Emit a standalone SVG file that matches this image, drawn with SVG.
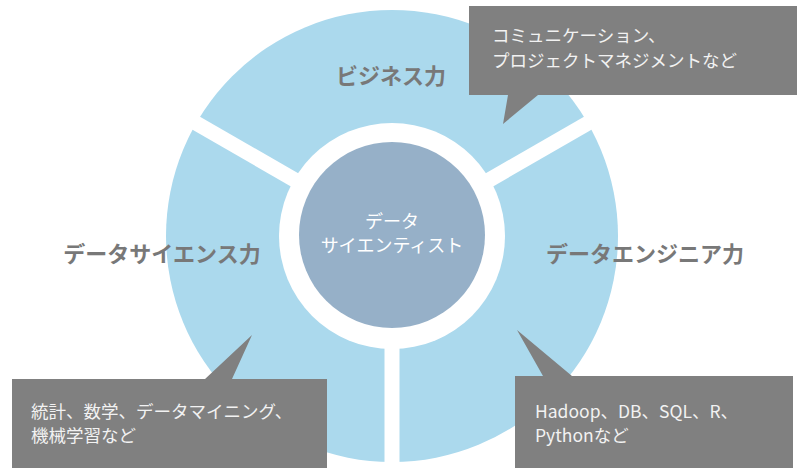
<svg xmlns="http://www.w3.org/2000/svg" width="800" height="468" viewBox="0 0 800 468">
<style>
.lbl{font-family:"Noto Sans CJK JP","Noto Sans",sans-serif;font-size:22px;font-weight:bold;fill:#787878;text-anchor:middle}
.ctr{font-family:"Noto Sans CJK JP","Noto Sans",sans-serif;font-size:18px;fill:#ffffff;text-anchor:middle}
.box{fill:#808080}
.bt{font-family:"Noto Sans CJK JP","Noto Sans",sans-serif;font-size:17.5px;fill:#f2f2f2}
.gap{stroke:#ffffff;stroke-width:15}
</style>
<rect width="800" height="468" fill="#ffffff"/>
<g id="ring">
<circle cx="392" cy="236" r="226" fill="#abd9ed"/>
</g>
<g id="connectors">
<line class="gap" x1="392" y1="236" x2="392" y2="480"/>
<line class="gap" x1="392" y1="236" x2="175" y2="111"/>
<line class="gap" x1="392" y1="236" x2="609" y2="111"/>
</g>
<g id="center">
<circle cx="392" cy="236" r="113" fill="#ffffff"/>
<circle cx="392" cy="235" r="93" fill="#96b0c8"/>
<text class="ctr" x="392" y="228">データ</text>
<text class="ctr" x="392" y="252">サイエンティスト</text>
</g>
<g id="business">
<text class="lbl" x="391" y="84">ビジネス力</text>
</g>
<g id="datascience">
<text class="lbl" x="162" y="262">データサイエンス力</text>
</g>
<g id="dataengineer">
<text class="lbl" x="645" y="262">データエンジニア力</text>
</g>
<g id="callout-business">
<path class="box" d="M469,6 H797 V95 H538 L503,124 L508,95 H469 Z"/>
<text class="bt" x="492" y="42">コミュニケーション、</text>
<text class="bt" x="492" y="67">プロジェクトマネジメントなど</text>
</g>
<g id="callout-science">
<path class="box" d="M12,379 H205 L252,335 L232,379 H327 V468 H12 Z"/>
<text class="bt" x="31" y="418">統計、数学、データマイニング、</text>
<text class="bt" x="31" y="442">機械学習など</text>
</g>
<g id="callout-engineer">
<path class="box" d="M515,376 H543 L517,330 L572,376 H793 V468 H515 Z"/>
<text class="bt" x="535" y="418">Hadoop、DB、SQL、R、</text>
<text class="bt" x="535" y="442">Pythonなど</text>
</g>
</svg>
